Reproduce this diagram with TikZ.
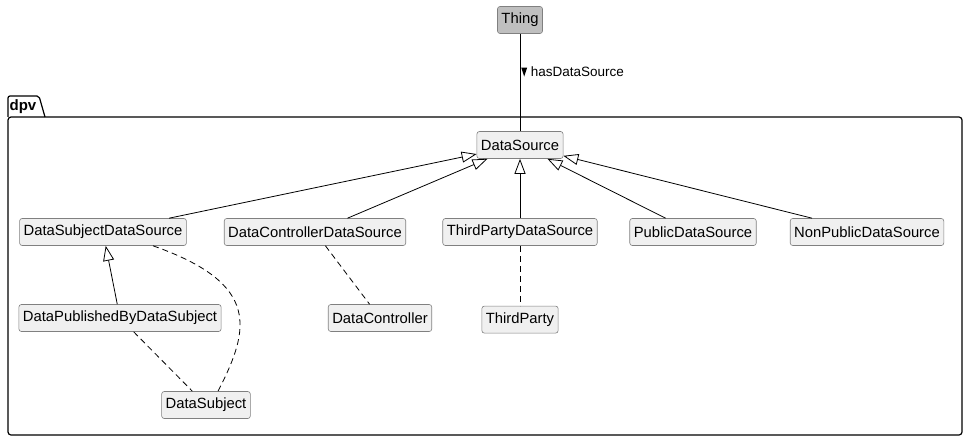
\documentclass[tikz,border=0pt]{standalone}
\usepackage{fontspec}
\setmainfont{Liberation Sans}
\usetikzlibrary{arrows.meta, positioning}

\begin{document}
\begin{tikzpicture}[x=1pt, y=-1pt, line width=0.8pt,
	cls/.style={rectangle, draw=black!50, line width=0.6pt, fill=black!6, rounded corners=2.5pt, minimum height=27pt, inner xsep=4pt, font=\fontsize{14.8}{16}\selectfont},
	isa/.style={-{Triangle[open, length=15pt, width=11pt]}},
	dep/.style={dash pattern=on 6pt off 4pt}]
			\useasboundingbox (0,0) rectangle (968,441);
			
			% package frame
			\draw[line width=1.2pt, rounded corners=2pt] (8,117) -- (8,96) -- (39,96) -- (45,117);
			\draw[line width=1.2pt, rounded corners=3pt] (8,117) rectangle (962,435);
			\node[font=\fontsize{15}{16}\selectfont\bfseries] (pkg) at (23,107) {dpv};
			
			\node[cls, fill=black!25] (Thing) at (520,20) {Thing};
			\node[cls] (DS) at (520,145) {DataSource};
			
			\node[cls] (DSDS) at (103,232) {DataSubjectDataSource};
			\node[cls] (DCDS) at (315,232) {DataControllerDataSource};
			\node[cls] (TPDS) at (520,232) {ThirdPartyDataSource};
			\node[cls] (PDS) at (693,232) {PublicDataSource};
			\node[cls] (NPDS) at (867,232) {NonPublicDataSource};
			
			\node[cls] (DPBDS) at (120,318) {DataPublishedByDataSubject};
			\node[cls] (DC) at (380,318) {DataController};
			\node[cls, below=60pt of TPDS] (TP) {ThirdParty};
			\node[cls] (DSub) at (206,405) {DataSubject};
			
			\draw (Thing) -- node[right, pos=0.39, inner xsep=1pt, font=\fontsize{13.5}{15}\selectfont] {\tikz\fill (0,0) -- (6pt,0) -- (3pt,-9pt) -- cycle;\ hasDataSource} (DS);
			
			\draw[isa] (DSDS) -- (DS);
			\draw[isa] (DCDS) -- (DS);
			\draw[isa] (TPDS) -- (DS);
			\draw[isa] (PDS) -- (DS);
			\draw[isa] (NPDS) -- (DS);
			\draw[isa] (DPBDS) -- (DSDS);
			
			\draw[dep] (DCDS) -- (DC);
			\draw[dep] (TPDS) -- (TP);
			\draw[dep] (DPBDS) -- (DSub);
			\draw[dep] ([xshift=50pt]DSDS.south) .. controls +(108,38) and +(32,-62) .. ([xshift=12pt]DSub.north);
			
		\end{tikzpicture}
\end{document}
